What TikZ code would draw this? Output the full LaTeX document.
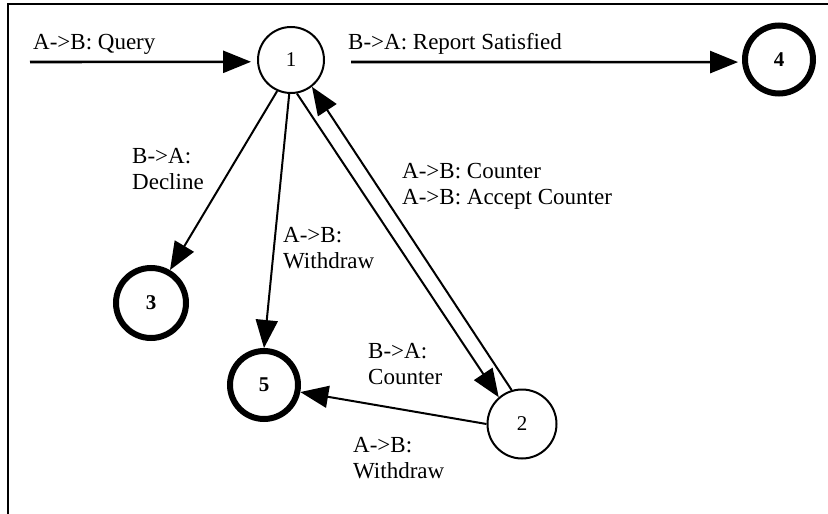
\documentclass[tikz,border=0pt]{standalone}
\usepackage{fontspec}
\setmainfont{Liberation Serif}
\usetikzlibrary{arrows.meta}
\begin{document}
\begin{tikzpicture}[x=1pt,y=-1pt,
  state/.style={circle, draw, line width=2pt, minimum size=66pt, inner sep=0pt,
    font=\fontsize{21}{21}\selectfont},
  final/.style={state, line width=6pt, minimum size=68pt, font=\fontsize{21}{21}\selectfont\bfseries},
  edge/.style={line width=2pt, -{Triangle[length=28pt,width=22pt]}},
  hedge/.style={edge, line width=2.6pt},
  lbl/.style={anchor=base west, align=left, inner sep=0pt, font=\fontsize{23}{26}\selectfont}]
  \useasboundingbox (0,0) rectangle (828,514);
  % frame
  \draw[line width=1.5pt] (8,514) -- (8,4) -- (828,4);

  % states
  \node[state] (n1) at (291,60) {1};
  \node[state, minimum size=69pt] (n2) at (522,424) {2};
  \node[final, minimum size=70pt] (n3) at (151,303) {3};
  \node[final] (n4) at (779,59.5) {4};
  \node[final] (n5) at (264,385) {5};

  % free ends of the horizontal arrows
  \coordinate (qs) at (30,62);
  \coordinate (rs) at (351,62);

  % transitions
  \draw[hedge, shorten >=6pt] (qs) -- (n1.183);
  \draw[hedge, shorten >=4pt] (rs) -- (n4.184);
  \draw[edge] (n1.-114) -- (n3.60);
  \draw[edge] (n1.-93) -- (n5.90);
  \draw[edge] (n1.-80) -- (n2.131);
  \draw[edge] (n2.107) -- (n1.-52);
  \draw[edge] (n2.180) -- (n5.-11);

  % transition labels (multi-line ones are placed by their last baseline)
  \node[lbl] (lq) at (33,49) {A->B: Query};
  \node[lbl] (lr) at (348,49) {B->A: Report Satisfied};
  \node[lbl] (ld) at (132,189) {B->A:\\Decline};
  \node[lbl] (lw1) at (283,268) {A->B:\\Withdraw};
  \node[lbl] (lc) at (402,204) {A->B: Counter\\A->B: Accept Counter};
  \node[lbl] (lbc) at (368,384) {B->A:\\Counter};
  \node[lbl] (lw2) at (353,478) {A->B:\\Withdraw};
\end{tikzpicture}
\end{document}
